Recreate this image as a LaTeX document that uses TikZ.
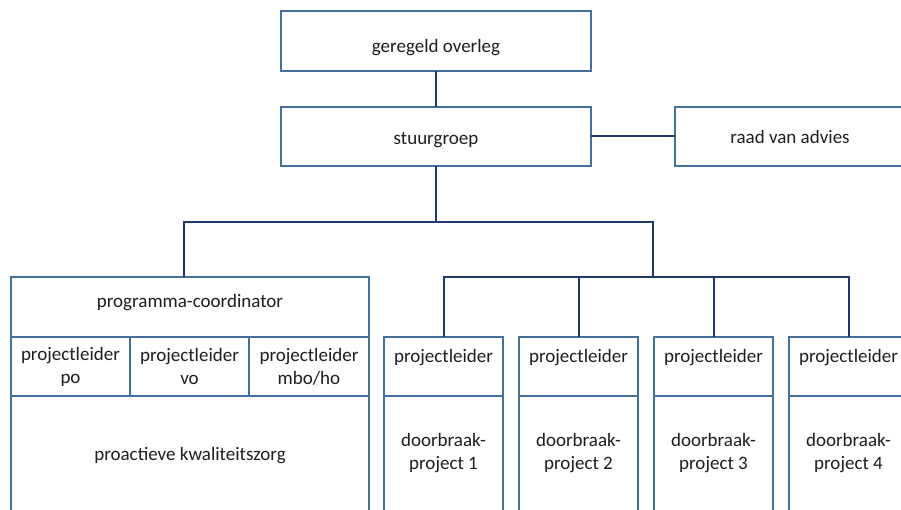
\documentclass[tikz,border=0pt]{standalone}
\usepackage{fontspec}
\setmainfont{Carlito}
\usetikzlibrary{positioning}
\definecolor{boxblue}{RGB}{65,113,156}
\definecolor{linenavy}{RGB}{31,56,110}
\definecolor{txtgray}{RGB}{30,30,30}

\begin{document}
\begin{tikzpicture}[x=1pt, y=-1pt, font=\fontsize{19}{23}\selectfont, text=txtgray]

\tikzstyle{unit}=[
    rectangle,
    draw=boxblue,
    line width=1.6pt,
    fill=white,
    inner sep=0pt,
    outer sep=0pt,
    align=center
]
\tikzstyle{head}=[minimum width=119pt, minimum height=59pt, text height=25pt, text depth=34pt]
\tikzstyle{link}=[draw=linenavy, line width=2pt]

\useasboundingbox (0,0) rectangle (901,510);

% top of the chart
\node[unit, minimum width=310pt, minimum height=60pt, text height=42pt, text depth=18pt] (Over) at (436,41) {geregeld overleg};
\node[unit, minimum width=310pt, minimum height=59pt, text height=38pt, text depth=21pt] (Stuur) [below=36pt of Over] {stuurgroep};
\node[unit, minimum width=230pt, minimum height=59pt] (Raad) [right=84pt of Stuur] {raad van advies};

% left block
\node[unit, minimum width=358pt, minimum height=60pt, text height=30pt, text depth=30pt] (Prog) at (190,307) {programma-coordinator};
\node[unit, anchor=north west, minimum width=119pt, minimum height=59pt] (PL_po) at (Prog.south west) {projectleider\\po};
\node[unit, anchor=north west, minimum width=119pt, minimum height=59pt] (PL_vo) at (PL_po.north east) {projectleider\\vo};
\node[unit, anchor=north west, minimum width=120pt, minimum height=59pt] (PL_mbo) at (PL_vo.north east) {projectleider\\mbo/ho};
\node[unit, anchor=north west, minimum width=358pt, minimum height=119pt] (Kwal) at (PL_po.south west) {proactieve kwaliteitszorg};

% doorbraakprojecten
\foreach \i/\x in {1/443.5, 2/578.5, 3/713.5, 4/848.5} {
    \node[unit, head] (PL_\i) at (\x,366.5) {projectleider};
    \node[unit, anchor=north, minimum width=119pt, minimum height=115pt] (DB_\i) at (PL_\i.south) {doorbraak-\\project \i};
}

\coordinate (Split) at (436,222);
\coordinate (Bus) at (653,277);

\path[link]
(Over) edge (Stuur)
(Stuur) edge (Raad);

\draw[link] (Stuur) -- (Split) -| ([xshift=-6pt]Prog.north);
\draw[link] (Split) -| (Bus);
\foreach \i in {1,...,4}
    \draw[link] (Bus) -| (PL_\i);

\end{tikzpicture}
\end{document}
